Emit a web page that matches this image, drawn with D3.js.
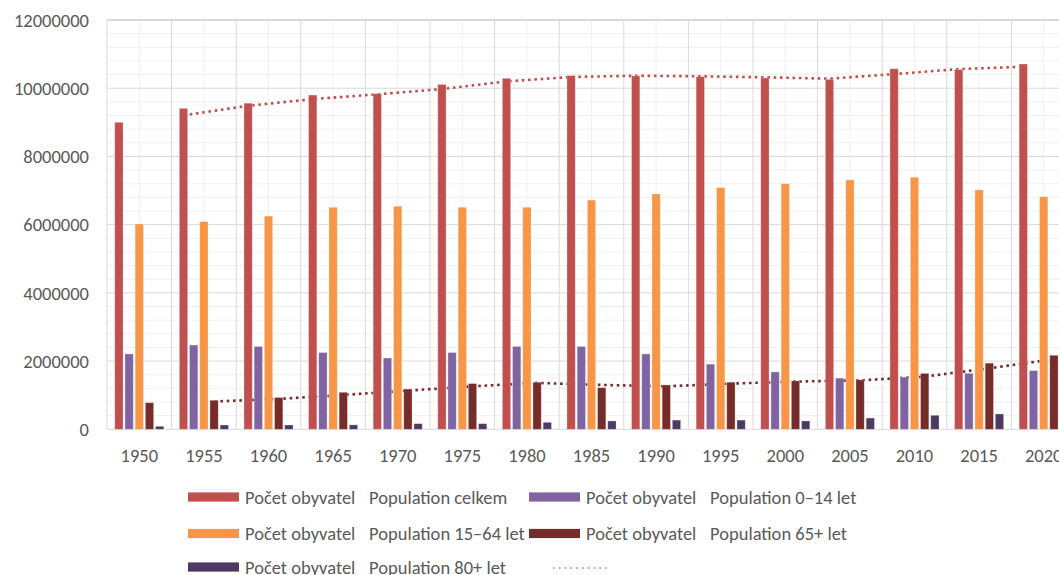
<!DOCTYPE html>
<html>
<head>
<meta charset="utf-8">
<script src="https://cdn.jsdelivr.net/npm/d3@7"></script>
<style>
  body { margin: 0; background: #fff; }
  svg { display: block; font-family: Carlito, Calibri, Lato, sans-serif; }
</style>
</head>
<body>
<svg id="chart"></svg>
<script>
var width = 1059;
var height = 575;

// values
var years = ['1950', '1955', '1960', '1965', '1970', '1975', '1980', '1985',
  '1990', '1995', '2000', '2005', '2010', '2015', '2020'];
var total = [9000000, 9410000, 9560000, 9800000, 9840000, 10110000, 10290000, 10370000,
  10360000, 10340000, 10300000, 10260000, 10570000, 10550000, 10710000];
var age0to14 = [2210000, 2470000, 2430000, 2250000, 2090000, 2250000, 2430000, 2430000,
  2210000, 1910000, 1680000, 1500000, 1530000, 1640000, 1720000];
var age15to64 = [6020000, 6090000, 6250000, 6510000, 6540000, 6510000, 6510000, 6720000,
  6900000, 7090000, 7200000, 7310000, 7390000, 7020000, 6820000];
var age65plus = [780000, 850000, 930000, 1085000, 1180000, 1340000, 1380000, 1220000,
  1300000, 1380000, 1420000, 1450000, 1640000, 1940000, 2170000];
var age80plus = [88000, 126000, 126000, 130000, 165000, 165000, 205000, 245000,
  270000, 270000, 245000, 330000, 410000, 450000, 490000];
var yTicks = [0, 2000000, 4000000, 6000000, 8000000, 10000000, 12000000];

var series = [
  { key: 'celkem', name: ['Počet obyvatel', 'Population celkem'], values: total, color: '#C0504D' },
  { key: '0-14', name: ['Počet obyvatel', 'Population 0–14 let'], values: age0to14, color: '#8064A2' },
  { key: '15-64', name: ['Počet obyvatel', 'Population 15–64 let'], values: age15to64, color: '#F79646' },
  { key: '65+', name: ['Počet obyvatel', 'Population 65+ let'], values: age65plus, color: '#772C2A' },
  { key: '80+', name: ['Počet obyvatel', 'Population 80+ let'], values: age80plus, color: '#4D3A62' }
];

// 2-period moving average trendlines (as Excel draws them)
function movingAvg(vals) {
  return vals.map(function (v, i) {
    return i === 0 ? null : (v + vals[i - 1]) / 2;
  });
}
var trends = [
  { key: 'celkem', values: movingAvg(total), color: '#C0504D' },
  { key: '65+', values: movingAvg(age65plus), color: '#772C2A' }
];

var fontSize = '18.5px';
var textColor = '#595959';

var svg = d3.select('#chart').attr('width', width).attr('height', height);

var plot = { left: 107, top: 20, right: 1076, bottom: 429.3 };

var x = d3.scaleBand()
  .domain(years)
  .range([plot.left, plot.right])
  .paddingInner(0)
  .paddingOuter(0);

var inner = d3.scaleBand()
  .domain(series.map(function (s) { return s.key; }))
  .range([0, x.bandwidth()])
  .paddingInner(0.186)
  .paddingOuter(0.76);

var y = d3.scaleLinear()
  .domain([0, 12000000])
  .range([plot.bottom, plot.top]);

// grid
var grid = svg.append('g');
var minorY = d3.range(0, 12000001, 400000).filter(function (v) { return v % 2000000 !== 0; });
grid.selectAll('.minor-h').data(minorY).enter().append('line')
  .attr('x1', plot.left).attr('x2', width)
  .attr('y1', function (d) { return y(d); }).attr('y2', function (d) { return y(d); })
  .attr('stroke', '#f0f0f0').attr('stroke-width', 1);
grid.selectAll('.minor-v').data(years).enter().append('line')
  .attr('x1', function (d) { return x(d) + x.bandwidth() / 2; })
  .attr('x2', function (d) { return x(d) + x.bandwidth() / 2; })
  .attr('y1', plot.top).attr('y2', plot.bottom)
  .attr('stroke', '#f0f0f0').attr('stroke-width', 1);
grid.selectAll('.major-v').data(years).enter().append('line')
  .attr('x1', function (d) { return x(d); })
  .attr('x2', function (d) { return x(d); })
  .attr('y1', plot.top).attr('y2', plot.bottom)
  .attr('stroke', '#d9d9d9').attr('stroke-width', 1);
grid.selectAll('.major-h').data(yTicks).enter().append('line')
  .attr('x1', plot.left).attr('x2', width)
  .attr('y1', function (d) { return y(d); }).attr('y2', function (d) { return y(d); })
  .attr('stroke', '#d9d9d9')
  .attr('stroke-width', function (d) { return d === 12000000 ? 2 : 1; });

// y labels
svg.append('g').selectAll('text').data(yTicks).enter().append('text')
  .attr('x', 89)
  .attr('y', function (d) { return y(d); })
  .attr('dy', '0.36em')
  .attr('text-anchor', 'end')
  .attr('font-size', fontSize)
  .attr('fill', textColor)
  .text(function (d) { return d; });

// x labels
svg.append('g').selectAll('text').data(years).enter().append('text')
  .attr('x', function (d) { return x(d) + x.bandwidth() / 2; })
  .attr('y', 455)
  .attr('dy', '0.36em')
  .attr('text-anchor', 'middle')
  .attr('font-size', fontSize)
  .attr('fill', textColor)
  .text(function (d) { return d; });

// trendlines, drawn under the bars
trends.forEach(function (t) {
  var line = d3.line()
    .defined(function (d) { return d != null; })
    .x(function (d, i) { return x(years[i]) + inner(t.key) + inner.bandwidth() / 2; })
    .y(function (d) { return y(d); });
  svg.append('path')
    .datum(t.values)
    .attr('d', line)
    .attr('fill', 'none')
    .attr('stroke', t.color)
    .attr('stroke-width', 2.6)
    .attr('stroke-dasharray', '2.6,3.7');
});

// bars
var bars = svg.append('g');
series.forEach(function (s) {
  bars.selectAll('.b-' + s.key.replace(/\W/g, '')).data(s.values).enter().append('rect')
    .attr('x', function (d, i) { return x(years[i]) + inner(s.key); })
    .attr('y', function (d) { return y(d); })
    .attr('width', inner.bandwidth())
    .attr('height', function (d) { return plot.bottom - y(d); })
    .attr('fill', s.color)
    .attr('stroke', '#ffffff')
    .attr('stroke-opacity', 0.35)
    .attr('stroke-width', 0.8);
});

// legend
var legendPos = [
  { x: 188, y: 497 }, { x: 529, y: 497 },
  { x: 188, y: 533.5 }, { x: 529, y: 533.5 },
  { x: 188, y: 567 }
];
var legend = svg.append('g');
series.forEach(function (s, i) {
  var p = legendPos[i];
  var g = legend.append('g').attr('transform', 'translate(' + p.x + ',' + p.y + ')');
  g.append('rect').attr('x', 0).attr('y', -4.6).attr('width', 51).attr('height', 9.2).attr('fill', s.color);
  g.append('text').attr('x', 57).attr('dy', '0.36em')
    .attr('font-size', fontSize).attr('fill', textColor).text(s.name[0]);
  g.append('text').attr('x', 181).attr('dy', '0.36em')
    .attr('font-size', fontSize).attr('fill', textColor).text(s.name[1]);
});
legend.append('line')
  .attr('x1', 553).attr('x2', 607).attr('y1', 568).attr('y2', 568)
  .attr('stroke', '#E06E6B').attr('stroke-width', 1.6)
  .attr('stroke-dasharray', '1.6,4.2');
</script>
</body>
</html>
